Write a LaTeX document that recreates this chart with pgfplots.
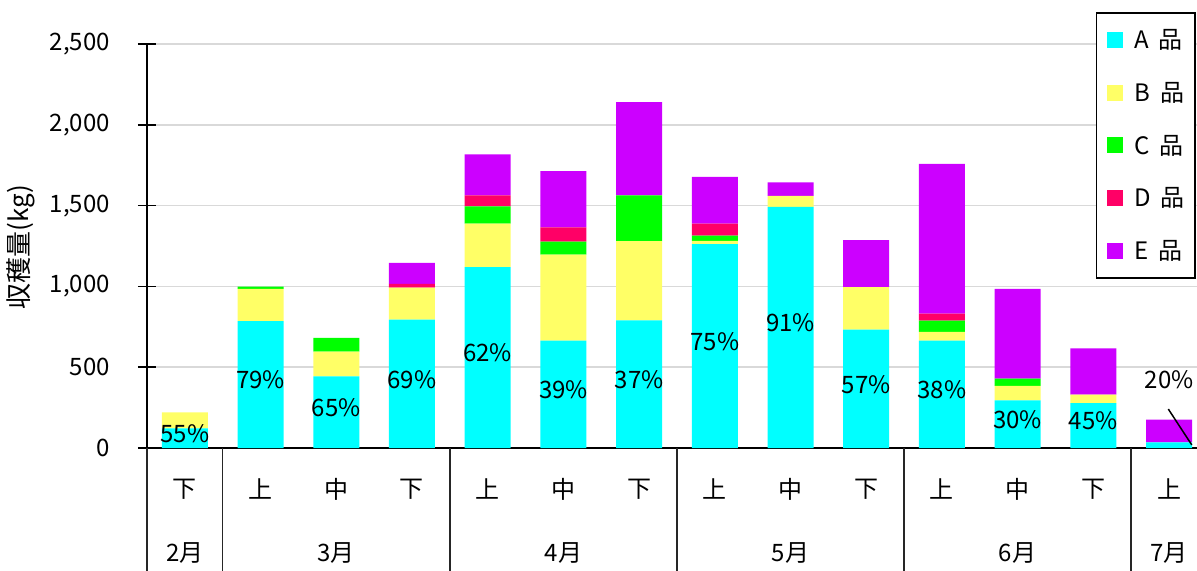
\documentclass[border=0pt]{standalone}
\usepackage{fontspec}
\setmainfont{Noto Sans CJK JP}
\usepackage{pgfplots}
\usepackage{pgfplotstable}
\pgfplotsset{compat=1.18}

\definecolor{gradeA}{HTML}{00FFFF}
\definecolor{gradeB}{HTML}{FFFF66}
\definecolor{gradeC}{HTML}{00FF00}
\definecolor{gradeD}{HTML}{FF0066}
\definecolor{gradeE}{HTML}{CC00FF}
\definecolor{gridgray}{HTML}{D9D9D9}

\newcommand{\chartfont}{\fontsize{24bp}{28bp}\selectfont}
\newcommand{\grade}[1]{\hspace{12bp}#1\hspace{0.4em}品\hspace{7bp}}

\pgfplotsset{
  sqlegend/.style={legend image code/.code={\fill[##1] (11bp,-8bp) rectangle (27bp,8bp);}},
}

% harvest per ten-day period (kg), by grade
\pgfplotstableread{
x A    B   C   D  E
0 121  99  0   0  0
1 785  200 14  0  0
2 443  153 85  0  0
3 794  198 0   23 130
4 1120 268 107 68 254
5 665  532 80  88 349
6 790  490 283 0  577
7 1262 20  32  74 290
8 1492 68  0   0  83
9 733  262 0   0  292
10 665 53  70  43 927
11 295 89  45  0  555
12 278 52  0   0  287
13 35  0   0   0  140
}\harvest
% share of grade A in percent, and where its label sits
\pgfplotstablecreatecol[create col/expr={round(100*\thisrow{A}/(\thisrow{A}+\thisrow{B}+\thisrow{C}+\thisrow{D}+\thisrow{E}))}]{P}\harvest
\pgfplotstablecreatecol[create col/expr={ifthenelse(\thisrow{x}>12.5,392,\thisrow{A}/2)}]{H}\harvest

\begin{document}
\begin{tikzpicture}
\begin{axis}[
  at={(0,0)}, anchor=south west,
  scale only axis, width=1050bp, height=404bp,
  xmin=-0.5, xmax=13.369, ymin=0, ymax=2500,
  ybar stacked, bar width=46bp,
  axis lines*=left,
  axis line style={black, line width=1.6bp},
  ymajorgrids, grid style={gridgray, line width=1.5bp},
  ytick={0,500,...,2500},
  tick align=center, major tick length=18bp,
  y tick style={black, line width=1.5bp},
  xtick={0,...,13},
  xticklabels={下,上,中,下,上,中,下,上,中,下,上,中,下,上},
  x tick style={draw=none},
  xticklabel style={anchor=center, yshift=-32bp, font=\chartfont},
  yticklabel style={anchor=east, inner sep=0pt, xshift=-28bp, font=\chartfont},
  /pgf/number format/.cd, 1000 sep={,}, assume math mode=true,
  /pgfplots/.cd,
  clip=false,
  legend style={at={(rel axis cs:0.9986,1.079)}, anchor=north east,
    draw=black, line width=1.5bp, fill=white, font=\chartfont,
    inner xsep=10bp, inner ysep=17bp, row sep=32bp,
    nodes={inner sep=0pt}},
  legend cell align=left,
]
\addplot[fill=gradeA, draw=none, sqlegend] table[x=x, y=A] \harvest;
\addplot[fill=gradeB, draw=none, sqlegend] table[x=x, y=B] \harvest;
\addplot[fill=gradeC, draw=none, sqlegend] table[x=x, y=C] \harvest;
\addplot[fill=gradeD, draw=none, sqlegend] table[x=x, y=D] \harvest;
\addplot[fill=gradeE, draw=none, sqlegend] table[x=x, y=E] \harvest;
\legend{\grade{A},\grade{B},\grade{C},\grade{D},\grade{E}}

% month groups below the period labels
\pgfplotsinvokeforeach{-0.5,0.5,3.5,6.5,9.5,12.5}{
  \draw[black!85, line width=1.5bp] (axis cs:#1,0) -- ([yshift=-130bp]axis cs:#1,0);
}
\node[font=\chartfont] at (axis cs:0,0)  [yshift=-105bp] {2月};
\node[font=\chartfont] at (axis cs:2,0)  [yshift=-105bp] {3月};
\node[font=\chartfont] at (axis cs:5,0)  [yshift=-105bp] {4月};
\node[font=\chartfont] at (axis cs:8,0)  [yshift=-105bp] {5月};
\node[font=\chartfont] at (axis cs:11,0) [yshift=-105bp] {6月};
\node[font=\chartfont] at (axis cs:13,0) [yshift=-105bp] {7月};
\end{axis}

% grade-A share labels
\begin{axis}[
  at={(0,0)}, anchor=south west,
  scale only axis, width=1050bp, height=404bp,
  xmin=-0.5, xmax=13.369, ymin=0, ymax=2500,
  hide axis, clip=false,
]
\addplot[only marks, mark=none, point meta=explicit,
  nodes near coords={\pgfmathprintnumber[fixed,precision=0,assume math mode=true]{\pgfplotspointmeta}\%},
  every node near coord/.append style={anchor=center, yshift=4.5bp, font=\chartfont, black}]
  table[x=x, y=H, meta=P] \harvest;
\draw[black, line width=1.5bp] (axis cs:12.99,241) -- (axis cs:13.30,19);
\end{axis}

\node[rotate=90, font=\fontsize{26bp}{30bp}\selectfont] at (-126bp,201bp) {収穫量(kg)};

\pgfresetboundingbox
\path[use as bounding box] (-147bp,-123bp) rectangle (1050bp,448bp);
\end{tikzpicture}
\end{document}
